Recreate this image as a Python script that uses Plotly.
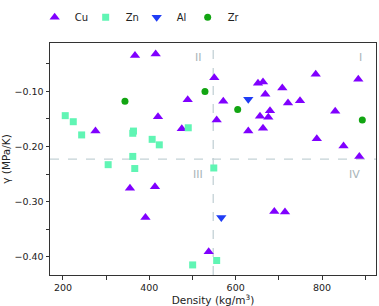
import plotly.graph_objects as go

# ---- data ----
cu_density = [366.8, 414.7, 488.9, 420.1, 275.3, 475.2, 550.5, 571.3, 651.7, 663.3,
              668.6, 708.0, 785.4, 884.0, 721.2, 749.0, 679.5, 656.3, 675.6, 556.0,
              830.5, 629.2, 663.3, 787.9, 849.8, 886.4, 355.2, 413.1, 391.1, 689.5,
              714.2, 537.5]
cu_gamma = [-0.035, -0.032, -0.115, -0.146, -0.172, -0.168, -0.075, -0.118, -0.085, -0.083,
            -0.105, -0.094, -0.069, -0.078, -0.121, -0.117, -0.135, -0.145, -0.147, -0.152,
            -0.136, -0.172, -0.167, -0.186, -0.199, -0.218, -0.276, -0.273, -0.329, -0.318,
            -0.319, -0.391]

zn_density = [205.3, 223.9, 243.3, 363.3, 361.7, 406.6, 423.1, 361.7, 304.7, 366.3,
              490.2, 549.3, 556.0, 500.4]
zn_gamma = [-0.144, -0.155, -0.179, -0.172, -0.176, -0.187, -0.197, -0.218, -0.233, -0.240,
            -0.166, -0.239, -0.407, -0.415]

al_density = [629.2, 566.7]
al_gamma = [-0.114, -0.329]

zr_density = [343.6, 528.9, 604.7, 893.3]
zr_gamma = [-0.118, -0.100, -0.133, -0.152]

x_ticks = [200, 400, 600, 800]
y_ticks = [-0.40, -0.30, -0.20, -0.10]

density_split = 548
gamma_split = -0.223

quadrants = ["I", "II", "III", "IV"]
quadrant_x = [888, 515, 513, 876]
quadrant_y = [-0.039, -0.039, -0.251, -0.251]

FONT = "DejaVu Sans"

fig = go.Figure()
fig.add_trace(go.Scatter(x=cu_density, y=cu_gamma, mode="markers", name="Cu",
                         marker=dict(symbol="triangle-up", size=9, color="#8000ff")))
fig.add_trace(go.Scatter(x=zn_density, y=zn_gamma, mode="markers", name="Zn",
                         marker=dict(symbol="square", size=7, color="#60f5b4")))
fig.add_trace(go.Scatter(x=al_density, y=al_gamma, mode="markers", name="Al",
                         marker=dict(symbol="triangle-down", size=9, color="#1f3cf5")))
fig.add_trace(go.Scatter(x=zr_density, y=zr_gamma, mode="markers", name="Zr",
                         marker=dict(symbol="circle", size=7, color="#12a512")))

fig.add_shape(type="line", xref="x", yref="paper", x0=density_split, x1=density_split,
              y0=0, y1=1, line=dict(color="#c4d2d6", width=1.3, dash="dash"), layer="below")
fig.add_shape(type="line", xref="paper", yref="y", x0=0, x1=1, y0=gamma_split,
              y1=gamma_split, line=dict(color="#c4d2d6", width=1.3, dash="dash"), layer="below")

for q, qx, qy in zip(quadrants, quadrant_x, quadrant_y):
    fig.add_annotation(x=qx, y=qy, text=q, showarrow=False,
                       font=dict(family=FONT, size=11, color="#a8b4b8"))

axis_common = dict(showline=True, linecolor="#333333", linewidth=1, mirror=True,
                   showgrid=False, zeroline=False, ticks="outside", ticklen=3.5,
                   tickcolor="#333333", tickwidth=1, automargin=False,
                   tickfont=dict(family=FONT, size=9.5, color="#222222"))

fig.update_xaxes(range=[170, 925], tickvals=x_ticks,
                 minor=dict(dtick=100, tick0=0, ticks="outside", ticklen=3.5, tickcolor="#333333"),
                 title=dict(text="Density (kg/m<sup>3</sup>)", standoff=2,
                            font=dict(family=FONT, size=10.5, color="#222222")),
                 **axis_common)
fig.update_yaxes(range=[-0.4333, -0.0121], tickvals=y_ticks, tickformat=".2f",
                 minor=dict(dtick=0.1, tick0=-0.05, ticks="outside", ticklen=3.5, tickcolor="#333333"),
                 title=dict(text="γ (MPa/K)", standoff=6,
                            font=dict(family=FONT, size=10.5, color="#222222")),
                 **axis_common)

fig.update_layout(
    width=379, height=306,
    margin=dict(l=50, r=3, t=32, b=31),
    plot_bgcolor="white", paper_bgcolor="white",
    font=dict(family=FONT, color="#222222"),
    legend=dict(orientation="h", x=-0.047, xanchor="left", y=1.111, yanchor="middle",
                font=dict(family=FONT, size=10, color="#222222"),
                entrywidth=6, entrywidthmode="pixels", itemwidth=30,
                bgcolor="rgba(0,0,0,0)"),
)

fig.write_html("out.html", config={"displayModeBar": False},
               post_script="document.body.style.margin='0';document.body.style.overflow='hidden';")
